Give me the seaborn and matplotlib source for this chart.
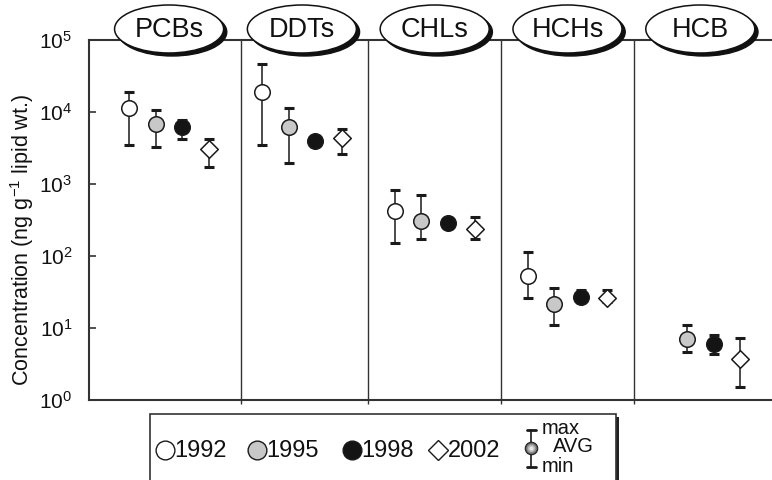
import numpy as np
import pandas as pd
import matplotlib
matplotlib.use("Agg")
import matplotlib.pyplot as plt
import matplotlib.transforms as mtransforms
from matplotlib.patches import Ellipse, Rectangle
from matplotlib.lines import Line2D
import seaborn as sns

# Contaminant groups and survey years
groups = ["PCBs", "DDTs", "CHLs", "HCHs", "HCB"]
years = ["1992", "1995", "1998", "2002"]

# Average concentrations (ng/g lipid wt.), one list per year across groups
avg_1992 = [11200, 18700, 420, 53, np.nan]
avg_1995 = [6800, 6200, 305, 21, 6.9]
avg_1998 = [6100, 3900, 282, 26.5, 5.9]
avg_2002 = [3000, 4300, 235, 25.5, 3.7]

# Maximum values
max_1992 = [19000, 46000, 820, 112, np.nan]
max_1995 = [10600, 11400, 690, 35, 10.9]
max_1998 = [7700, 4300, 310, 33, 7.9]
max_2002 = [4250, 5700, 342, 33, 7.2]

# Minimum values
min_1992 = [3500, 3500, 152, 25.5, np.nan]
min_1995 = [3300, 1930, 169, 11, 4.6]
min_1998 = [4250, 3500, 255, 23, 4.3]
min_2002 = [1700, 2600, 173, 23, 1.48]

yticks = [1, 10, 100, 1000, 10000, 100000]
ytick_labels = ["$10^{0}$", "$10^{1}$", "$10^{2}$", "$10^{3}$", "$10^{4}$", "$10^{5}$"]

sns.set_theme(style="white")
plt.rcParams["font.family"] = ["Liberation Sans", "DejaVu Sans"]
plt.rcParams["mathtext.default"] = "regular"

W, H = 772, 480
fig = plt.figure(figsize=(W / 100, H / 100), dpi=100)
ax_left, ax_right, ax_top, ax_bottom = 89, 772, 40, 399.5
ax = fig.add_axes([ax_left / W, 1 - ax_bottom / H,
                   (ax_right - ax_left) / W, (ax_bottom - ax_top) / H])

offsets = [-0.3, -0.1, 0.1, 0.3]
rows = []
for yi, (yr, a, hi, lo) in enumerate(zip(
        years,
        [avg_1992, avg_1995, avg_1998, avg_2002],
        [max_1992, max_1995, max_1998, max_2002],
        [min_1992, min_1995, min_1998, min_2002])):
    for gi, g in enumerate(groups):
        rows.append(dict(group=g, year=yr, x=gi + offsets[yi],
                         avg=a[gi], vmax=hi[gi], vmin=lo[gi]))
df = pd.DataFrame(rows).dropna()

# Min-max ranges
ecol = "#1a1a1a"
ax.errorbar(df["x"], df["avg"],
            yerr=[df["avg"] - df["vmin"], df["vmax"] - df["avg"]],
            fmt="none", ecolor=ecol, elinewidth=1.1, capsize=3.8,
            capthick=2.2, zorder=2)

# Averages
palette = {"1992": "white", "1995": "#c8c8c8", "1998": "#141414", "2002": "white"}
markers = {"1992": "o", "1995": "o", "1998": "o", "2002": "D"}
for yr in years:
    sub = df[df["year"] == yr]
    sns.scatterplot(data=sub, x="x", y="avg", color=palette[yr],
                    marker=markers[yr], s=125 if markers[yr] == "o" else 80,
                    edgecolor="#1a1a1a", linewidth=1.1, ax=ax, zorder=3,
                    legend=False)

ax.set_yscale("log")
ax.set_ylim(1, 1e5)
ax.set_xlim(-0.603, 4.54)
ax.set_yticks(yticks)
ax.set_yticklabels(ytick_labels, fontsize=15)
ax.yaxis.set_minor_locator(matplotlib.ticker.NullLocator())

dividers = [0.54, 1.5, 2.5, 3.5]
ax.set_xticks(dividers)
ax.set_xticklabels([])
ax.tick_params(axis="x", direction="out", length=3, width=1, color="#333333", bottom=True)
ax.tick_params(axis="y", direction="in", length=5, width=1.2, color="#333333",
               left=True, pad=12, labelcolor="#111111")
for d in dividers:
    ax.axvline(d, color="#333333", lw=1.0, zorder=1)

for side in ["left", "bottom", "top"]:
    ax.spines[side].set_color("#333333")
    ax.spines[side].set_linewidth(1.5)
ax.spines["right"].set_visible(False)
ax.set_xlabel("")
ax.set_ylabel("Concentration (ng g$^{-1}$ lipid wt.)", fontsize=15.5, color="#111111")
ax.yaxis.set_label_coords(-0.078, 0.444)

# Group name badges above each panel
blend = mtransforms.blended_transform_factory(ax.transData, fig.transFigure)
ew, eh = 109 / 132.75, 48 / H
ecy = 1 - 29 / H
for gi, g in enumerate(groups):
    shadow = Ellipse((gi + 0.024, ecy - 3 / H), ew, eh, transform=blend,
                     facecolor="#111111", edgecolor="#111111", lw=1.0,
                     clip_on=False, zorder=5)
    face = Ellipse((gi, ecy), ew, eh, transform=blend, facecolor="white",
                   edgecolor="#111111", lw=1.1, clip_on=False, zorder=6)
    fig.add_artist(shadow)
    fig.add_artist(face)
    fig.text(gi, ecy - 1 / H, g, transform=blend, ha="center", va="center",
             fontsize=19.5, color="#111111", zorder=7)


# Legend box with drop shadow
def fx(px):
    return px / W


def fy(py):
    return 1 - py / H


lx0, lx1, ly0 = 150, 616, 414
fig.add_artist(Rectangle((fx(lx0 + 2.5), fy(ly0 + 70)), fx(lx1 - lx0), (70 - 3) / H,
                         transform=fig.transFigure, facecolor="#222222",
                         edgecolor="none", zorder=1, clip_on=False))
fig.add_artist(Rectangle((fx(lx0), fy(ly0 + 70)), fx(lx1 - lx0), 70 / H,
                         transform=fig.transFigure, facecolor="white",
                         edgecolor="#333333", lw=1.2, zorder=2, clip_on=False))

ly = 450
entries = [("1992", 165, "o", "white"), ("1995", 257, "o", "#c8c8c8"),
           ("1998", 352, "o", "#141414"), ("2002", 438, "D", "white")]
for label, px, mk, fc in entries:
    fig.add_artist(Line2D([fx(px)], [fy(ly)], transform=fig.transFigure,
                          marker=mk, markersize=13.5 if mk == "o" else 10.5,
                          markerfacecolor=fc, markeredgecolor="#1a1a1a",
                          markeredgewidth=1.0, linestyle="none", zorder=3))
    fig.text(fx(px + 9.5), fy(ly + 1), label, fontsize=17, ha="left", va="center",
             color="#111111", zorder=3)

# Range key: shaded sphere with min/max caps
kx = 531
fig.add_artist(Line2D([fx(kx), fx(kx)], [fy(430), fy(467)], transform=fig.transFigure,
                      color=ecol, lw=1.2, zorder=3))
for cy in (430, 467):
    fig.add_artist(Line2D([fx(kx - 4.5), fx(kx + 4.5)], [fy(cy), fy(cy)],
                          transform=fig.transFigure, color=ecol, lw=2.0, zorder=3))
for ms, c, ec in [(9.0, "#5a5a5a", "#222222"), (7.2, "#8c8c8c", "none"),
                  (5.2, "#b8b8b8", "none"), (3.0, "#e8e8e8", "none")]:
    fig.add_artist(Line2D([fx(kx)], [fy(448)], transform=fig.transFigure,
                          marker="o", markersize=ms, markerfacecolor=c,
                          markeredgecolor=ec, markeredgewidth=0.8,
                          linestyle="none", zorder=4))
fig.text(fx(542), fy(428), "max", fontsize=14.5, ha="left", va="center", color="#111111")
fig.text(fx(553), fy(447), "AVG", fontsize=14.5, ha="left", va="center", color="#111111")
fig.text(fx(542), fy(467), "min", fontsize=14.5, ha="left", va="center", color="#111111")

fig.savefig("out.png", dpi=100)
